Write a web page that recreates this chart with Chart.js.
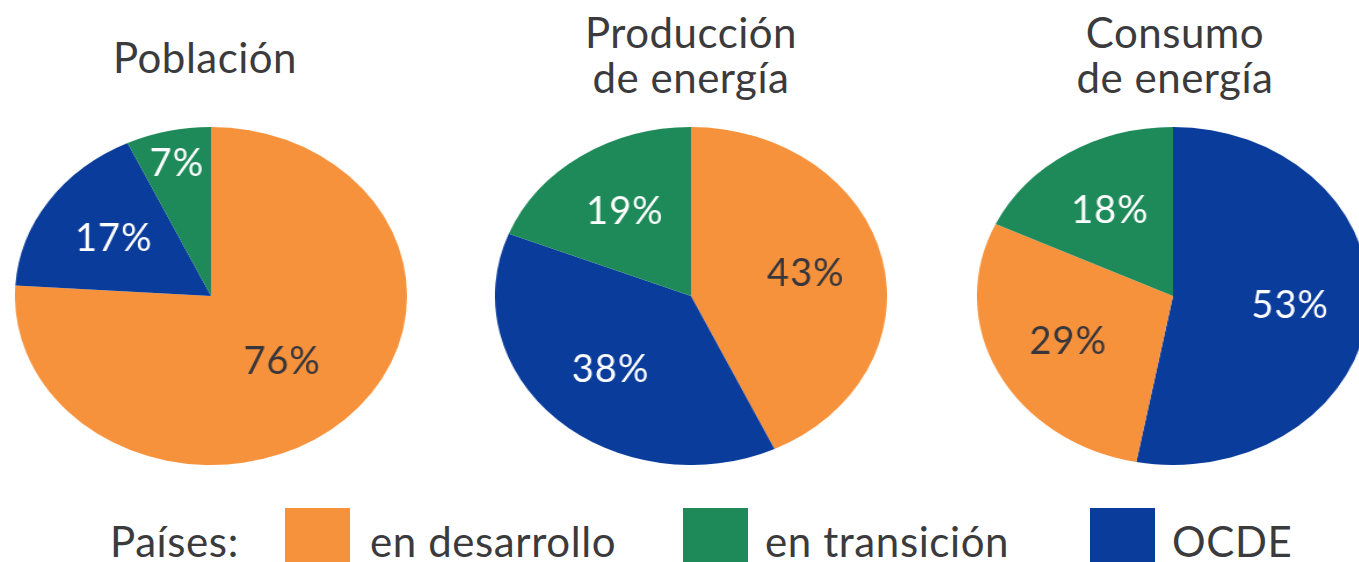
<!DOCTYPE html>
<html>
<head>
<meta charset="utf-8">
<script src="https://cdn.jsdelivr.net/npm/chart.js@4.4.1/dist/chart.umd.min.js"></script>
<style>
    body {
        margin: 0;
        width: 1359px;
        height: 562px;
        overflow: hidden;
        position: relative;
        background: #fff;
        font-family: Lato, sans-serif;
        color: #3b3b3e;
    }
    .pie {
        position: absolute;
        top: 127px;
        width: 338px;
        height: 338px;
        transform: scaleX(1.16);
        transform-origin: 50% 50%;
    }
    .title {
        position: absolute;
        width: 320px;
        text-align: center;
        font-size: 42px;
        line-height: 45px;
        letter-spacing: 0.5px;
    }
    .legend {
        position: absolute;
        top: 520px;
        font-size: 42px;
        line-height: 42px;
        white-space: nowrap;
        letter-spacing: 0.6px;
    }
    .swatch {
        position: absolute;
        top: 508px;
        width: 65px;
        height: 60px;
    }
</style>
</head>
<body>
<div class="title" style="left: 45px; top: 35px;">Población</div>
<div class="title" style="left: 531px; top: 10px;">Producción<br>de energía</div>
<div class="title" style="left: 1015px; top: 10px;">Consumo<br>de energía</div>

<div class="pie" style="left: 42px;"><canvas id="pie-poblacion" width="338" height="338"></canvas></div>
<div class="pie" style="left: 522px;"><canvas id="pie-produccion" width="338" height="338"></canvas></div>
<div class="pie" style="left: 1004px;"><canvas id="pie-consumo" width="338" height="338"></canvas></div>

<div class="legend" style="left: 110px;">Países:</div>
<div class="swatch" id="swatch-0" style="left: 285px;"></div>
<div class="legend" style="left: 370px;" id="legend-0"></div>
<div class="swatch" id="swatch-1" style="left: 683px;"></div>
<div class="legend" style="left: 765px;" id="legend-1"></div>
<div class="swatch" id="swatch-2" style="left: 1090px;"></div>
<div class="legend" style="left: 1172px;" id="legend-2"></div>

<script>
// groups of countries, shared by all three pies
const categories = ['en desarrollo', 'en transición', 'OCDE'];
const categoryColors = ['#f7923c', '#1e8a59', '#0a3c9c'];
const labelColors = ['#36363c', '#ffffff', '#ffffff'];

// shares in % per group, in the order of categories
const poblacion = [76, 7, 17];
const produccionEnergia = [43, 19, 38];
const consumoEnergia = [29, 18, 53];

// slices are drawn clockwise from 12 o'clock in this order
const orderPoblacion = [0, 2, 1];
const orderProduccion = [0, 2, 1];
const orderConsumo = [2, 0, 1];

// pies are ellipses: canvas is stretched sideways, text is drawn unstretched
const STRETCH = 1.16;

// how far out along the slice the percentage sits
function labelRadius(value) {
    if (value < 10) return 0.8;
    if (value > 60) return 0.53;
    return 0.6;
}

const sliceLabels = {
    id: 'sliceLabels',
    afterDatasetsDraw(chart) {
        const ctx = chart.ctx;
        const ds = chart.data.datasets[0];
        chart.getDatasetMeta(0).data.forEach((arc, i) => {
            const mid = (arc.startAngle + arc.endAngle) / 2;
            const r = arc.outerRadius * labelRadius(ds.data[i]);
            ctx.save();
            ctx.translate(arc.x + Math.cos(mid) * r, arc.y + Math.sin(mid) * r);
            ctx.scale(1 / STRETCH, 1);
            ctx.font = '38px Lato, sans-serif';
            ctx.letterSpacing = '1px';
            ctx.fillStyle = ds.labelColors[i];
            ctx.textAlign = 'center';
            ctx.textBaseline = 'middle';
            ctx.fillText(ds.data[i] + '%', 0, 0);
            ctx.restore();
        });
    }
};

function makePie(canvasId, values, order) {
    new Chart(document.getElementById(canvasId), {
        type: 'pie',
        data: {
            labels: order.map(i => categories[i]),
            datasets: [{
                data: order.map(i => values[i]),
                backgroundColor: order.map(i => categoryColors[i]),
                labelColors: order.map(i => labelColors[i]),
                borderWidth: 0
            }]
        },
        options: {
            responsive: false,
            animation: false,
            layout: { padding: 0 },
            plugins: {
                legend: { display: false },
                tooltip: { enabled: false }
            }
        },
        plugins: [sliceLabels]
    });
}

makePie('pie-poblacion', poblacion, orderPoblacion);
makePie('pie-produccion', produccionEnergia, orderProduccion);
makePie('pie-consumo', consumoEnergia, orderConsumo);

categories.forEach((name, i) => {
    document.getElementById('legend-' + i).textContent = name;
    document.getElementById('swatch-' + i).style.background = categoryColors[i];
});
</script>
</body>
</html>
